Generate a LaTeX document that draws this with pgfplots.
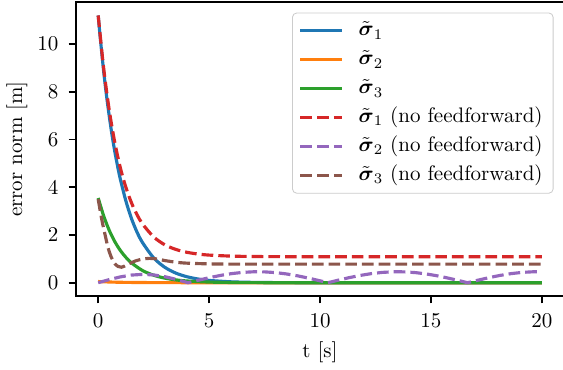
\documentclass[border=0pt]{standalone}
\usepackage{pgfplots}
\pgfplotsset{compat=1.18}
\usepackage{amsmath}
\usetikzlibrary{calc}
\definecolor{tabblue}{HTML}{1F77B4}
\definecolor{taborange}{HTML}{FF7F0E}
\definecolor{tabgreen}{HTML}{2CA02C}
\definecolor{tabred}{HTML}{D62728}
\definecolor{tabpurple}{HTML}{9467BD}
\definecolor{tabbrown}{HTML}{8C564B}
\begin{document}
\begin{tikzpicture}
\begin{axis}[
  scale only axis,
  width=232.4pt, height=140pt,
  xmin=-1, xmax=21, ymin=-0.56, ymax=11.76,
  xtick={0,5,10,15,20}, ytick={0,2,4,6,8,10},
  tick align=outside, tick pos=left,
  major tick length=3.5pt,
  axis line style={line width=0.8pt},
  every tick/.style={black, line width=0.8pt},
  xticklabel style={yshift=-1.4pt},
  yticklabel style={xshift=-1.4pt},
  xlabel={t [s]}, ylabel={error norm [m]},
  every axis x label/.style={at={(axis description cs:0.5,0)}, anchor=center, yshift=-26.7pt},
  every axis y label/.style={at={(axis description cs:-0.121,0.5)}, anchor=center, rotate=90},
  legend cell align=left,
  legend image code/.code={\draw[#1] (0pt,0pt) -- (20pt,0pt);},
  legend style={at={(rel axis cs:1,1)}, xshift=-5pt, yshift=-5pt, anchor=north east,
    draw=black!20, rounded corners=2pt, fill=white, fill opacity=0.8, text opacity=1,
    inner xsep=3pt, inner ysep=1.8pt, row sep=0.6pt, column sep=5pt,
    nodes={inner ysep=1.6pt, inner xsep=2pt, text height=7.5pt, text depth=2.5pt}},
  every axis plot/.append style={line width=1.5pt},
]
\addplot[tabblue, smooth] coordinates {(0,11.2)(0.1,10.19)(0.25,8.83)(0.375,7.84)(0.5,6.97)(0.625,6.18)(0.75,5.49)(0.875,4.88)(1,4.33)(1.25,3.42)(1.5,2.69)(1.75,2.12)(2,1.68)(2.5,1.04)(3,0.648)(3.5,0.403)(4,0.251)(4.5,0.156)(5,0.097)(6,0.0375)(7,0.0145)(8,0.0056)(10,0.001)(20,0)};
\addlegendentry{$\tilde{\boldsymbol{\sigma}}_1$}
\addplot[taborange] coordinates {(0,0.05)(0.5,0.03)(1,0.018)(2,0.007)(3,0.003)(5,0.0005)(20,0)};
\addlegendentry{$\tilde{\boldsymbol{\sigma}}_2$}
\addplot[tabgreen, smooth] coordinates {(0,3.55)(0.25,2.79)(0.5,2.19)(0.75,1.72)(1,1.35)(1.25,1.06)(1.5,0.83)(2,0.51)(2.5,0.314)(3,0.193)(3.5,0.119)(4,0.073)(5,0.028)(6,0.011)(8,0.0015)(20,0)};
\addlegendentry{$\tilde{\boldsymbol{\sigma}}_3$}
\addplot[tabred, smooth, dash pattern=on 5.55pt off 2.4pt] coordinates {(0,11.2)(0.25,8.96)(0.5,7.22)(0.75,5.87)(1,4.81)(1.25,3.99)(1.5,3.35)(1.75,2.85)(2,2.46)(2.5,1.92)(3,1.59)(3.5,1.395)(4,1.275)(4.5,1.202)(5,1.158)(6,1.115)(7,1.099)(8,1.093)(10,1.09)(20,1.09)};
\addlegendentry{$\tilde{\boldsymbol{\sigma}}_1$ (no feedforward)}
\addplot[tabpurple, dash pattern=on 5.55pt off 2.4pt] coordinates {(0,0)(0.5,0.132)(1,0.245)(1.5,0.321)(2,0.35)(2.5,0.327)(3,0.254)(3.5,0.145)(4.05,0)(4.5,0.102)(5,0.210)(5.5,0.304)(6,0.380)(6.5,0.432)(7,0.458)(7.2,0.46)(7.5,0.455)(8,0.424)(8.5,0.366)(9,0.287)(9.5,0.189)(10,0.080)(10.35,0)(10.8,0.102)(11.3,0.210)(11.8,0.304)(12.3,0.380)(12.8,0.432)(13.3,0.458)(13.5,0.46)(13.8,0.455)(14.3,0.424)(14.8,0.366)(15.3,0.287)(15.8,0.189)(16.3,0.080)(16.65,0)(17.1,0.102)(17.6,0.210)(18.1,0.304)(18.6,0.380)(19.1,0.432)(19.6,0.458)(19.8,0.46)(20,0.458)};
\addlegendentry{$\tilde{\boldsymbol{\sigma}}_2$ (no feedforward)}
\addplot[tabbrown, smooth, dash pattern=on 5.55pt off 2.4pt] coordinates {(0,3.5)(0.15,2.7)(0.3,2.05)(0.45,1.45)(0.6,1.05)(0.75,0.8)(0.9,0.68)(1.05,0.65)(1.2,0.7)(1.4,0.8)(1.7,0.92)(2.0,0.99)(2.3,1.02)(2.6,1.0)(3.0,0.93)(3.5,0.86)(4,0.82)(5,0.79)(6,0.78)(8,0.78)(20,0.78)};
\addlegendentry{$\tilde{\boldsymbol{\sigma}}_3$ (no feedforward)}
\coordinate (sw) at (rel axis cs:0,0);
\coordinate (ne) at (rel axis cs:1,1);
\end{axis}
\pgfresetboundingbox
\path ($(sw)+(-36.2pt,-34.8pt)$) rectangle ($(ne)+(-0.5pt,1pt)$);
\end{tikzpicture}
\end{document}
